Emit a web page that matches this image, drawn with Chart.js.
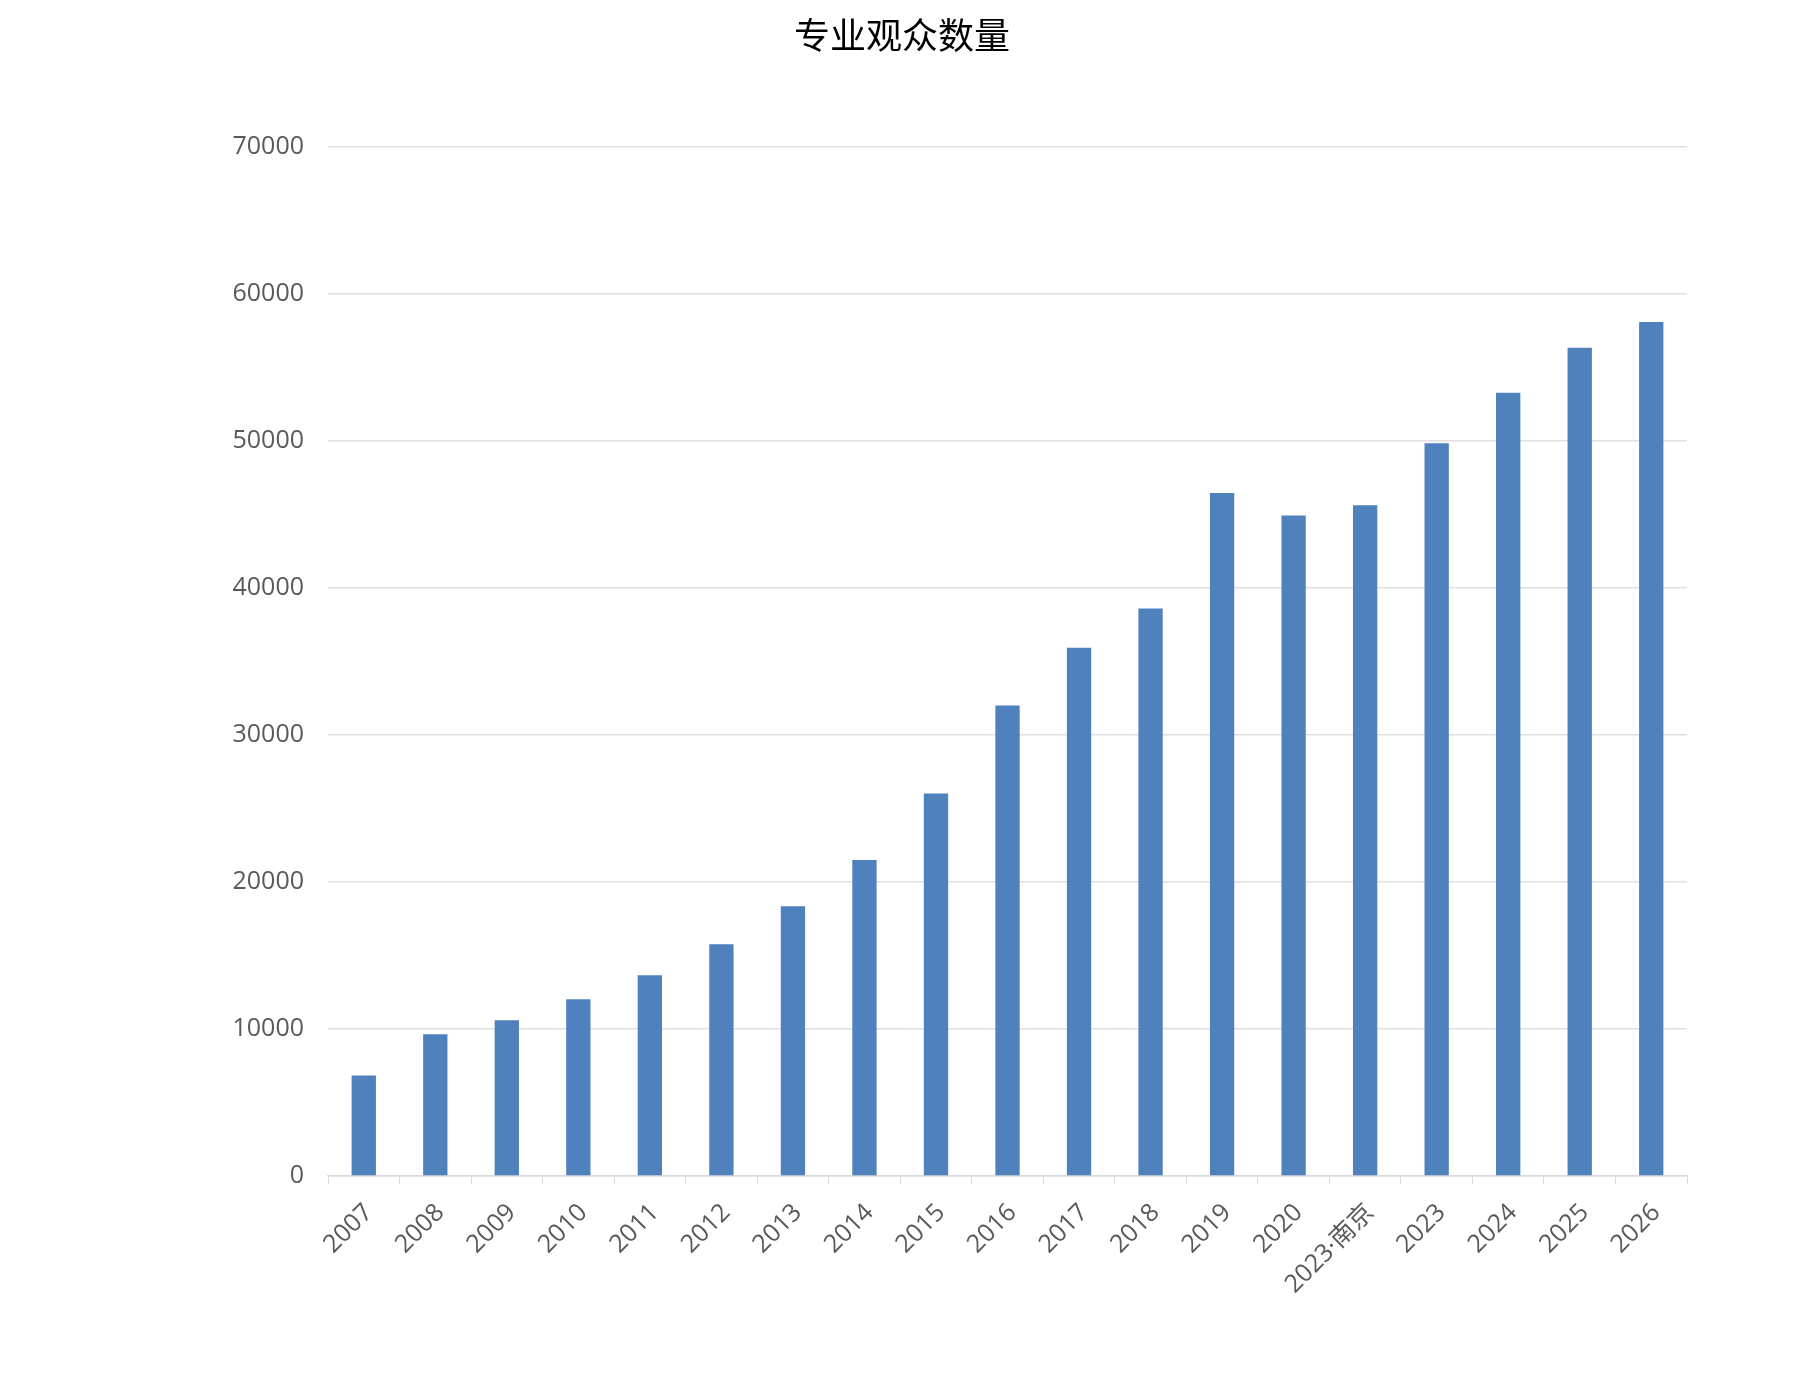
<!DOCTYPE html>
<html>
<head>
<meta charset="utf-8">
<script src="https://cdn.jsdelivr.net/npm/chart.js@4.4.1/dist/chart.umd.min.js"></script>
<style>
html,body{margin:0;padding:0;background:#fff;}
#wrap{width:1804px;height:1390px;position:relative;}
canvas{display:block;}
</style>
</head>
<body>
<div id="wrap"><canvas id="c" width="1804" height="1390"></canvas></div>
<script>
const chartTitle = '专业观众数量';
const categories = ['2007','2008','2009','2010','2011','2012','2013','2014','2015','2016','2017','2018','2019','2020','2023·南京','2023','2024','2025','2026'];
const visitors = [6840, 9640, 10590, 12020, 13660, 15770, 18360, 21500, 26030, 32020, 35940, 38620, 46480, 44940, 45630, 49860, 53300, 56360, 58100];
const yTicks = [0, 10000, 20000, 30000, 40000, 50000, 60000, 70000];

const labelFont = "'Open Sans', 'Noto Sans CJK SC', sans-serif";

new Chart(document.getElementById('c'), {
  type: 'bar',
  data: {
    labels: categories,
    datasets: [{
      label: chartTitle,
      data: visitors,
      backgroundColor: '#4f81bd',
      borderWidth: 0,
      categoryPercentage: 1.0,
      barPercentage: 0.34
    }]
  },
  options: {
    responsive: false,
    animation: false,
    devicePixelRatio: 1,
    layout: { padding: 0 },
    plugins: {
      legend: { display: false },
      tooltip: { enabled: false },
      title: {
        display: true,
        text: chartTitle,
        color: '#000000',
        font: { family: "'Noto Sans CJK SC', sans-serif", size: 36, weight: 'normal' },
        padding: { top: 14, bottom: 90 }
      }
    },
    scales: {
      x: {
        grid: { display: true, drawOnChartArea: false, drawTicks: true, tickLength: 8, color: '#d9d9d9', offset: true },
        border: { display: true, color: '#d9d9d9', width: 1.5 },
        ticks: {
          color: '#595959',
          font: { family: labelFont, size: 25 },
          maxRotation: 45, minRotation: 45,
          padding: 14,
          labelOffset: 5,
          autoSkip: false
        },
        afterFit: (s) => { s.height = 214; }
      },
      y: {
        min: 0, max: 70000,
        afterBuildTicks: (s) => { s.ticks = yTicks.map(v => ({ value: v })); },
        grid: { color: '#e0e0e0', lineWidth: 1.5, drawTicks: false },
        border: { display: false },
        ticks: {
          color: '#595959',
          font: { family: labelFont, size: 25 },
          padding: 24,
          callback: (v) => String(v)
        },
        afterFit: (s) => { s.width = 328; }
      },
      yRight: {
        position: 'right',
        display: true,
        min: 0, max: 70000,
        grid: { display: false, drawTicks: false },
        border: { display: false },
        ticks: { display: false },
        afterFit: (s) => { s.width = 117; }
      }
    }
  }
});
</script>
</body>
</html>
